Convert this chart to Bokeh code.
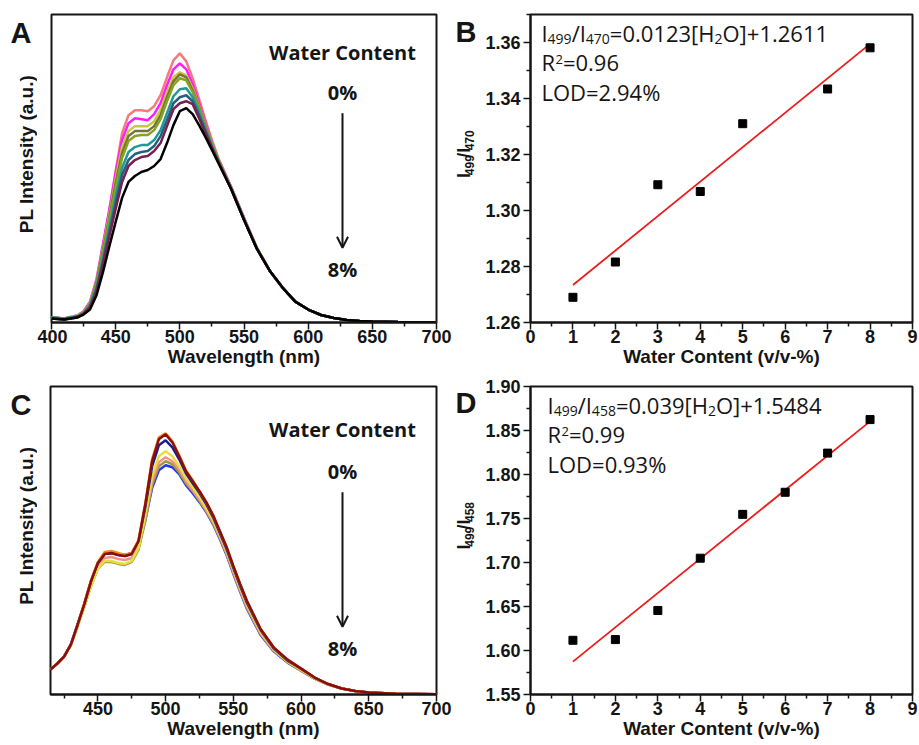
import math
from bokeh.plotting import figure
from bokeh.layouts import row, column
from bokeh.models import Range1d, Label, Arrow, OpenHead, FixedTicker, PrintfTickFormatter
from bokeh.embed import file_html
from bokeh.resources import INLINE

# ---------------- data ----------------
# Panel A: PL spectra, water content 0% (top) ... 8% (bottom)
wl_A = [400, 410, 420, 425, 430, 435, 440, 445, 450, 455, 460, 465, 470, 475, 480, 485, 490, 495,
        500, 505, 510, 515, 520, 525, 530, 540, 550, 560, 570, 580, 590, 600, 610, 620, 630, 640,
        650, 670, 700]
A_0 = [5, 4, 7, 11, 20, 40, 75, 112, 152, 190, 208, 213, 213, 212, 217, 228, 246, 263, 270, 262, 245,
       224, 203, 183, 165, 136, 105, 75, 52, 35, 21, 13, 7.5, 4.5, 2.5, 1.5, 1, 0.5, 0.3]
A_1 = [5, 4, 7, 11, 21, 43, 78, 113, 150, 183, 200, 205, 204, 203, 209, 220, 238, 254, 260, 254, 239,
       220, 200, 181, 164, 136, 105, 75, 52, 35, 21, 13, 7.5, 4.5, 2.5, 1.5, 1, 0.5, 0.3]
A_2 = [5, 4, 7, 10, 20, 41, 74, 108, 144, 176, 192, 197, 197, 197, 202, 213, 231, 246, 251, 248, 235,
       217, 198, 180, 164, 135, 104, 75, 52, 35, 21, 13, 7.5, 4.5, 2.5, 1.5, 1, 0.5, 0.3]
A_3 = [5, 4, 6, 10, 19, 40, 72, 105, 140, 170, 187, 192, 192, 192, 197, 208, 226, 242, 249, 246, 233,
       216, 197, 179, 163, 135, 104, 75, 52, 35, 21, 13, 7.5, 4.5, 2.5, 1.5, 1, 0.5, 0.3]
A_4 = [5, 4, 6, 10, 18, 38, 69, 102, 135, 165, 182, 187, 188, 188, 193, 204, 222, 238, 245, 243, 231,
       215, 196, 179, 163, 135, 104, 75, 52, 35, 21, 13, 7.5, 4.5, 2.5, 1.5, 1, 0.5, 0.3]
A_5 = [5, 4, 6, 9, 17, 35, 64, 95, 126, 155, 171, 176, 178, 178, 183, 193, 210, 227, 234, 235, 226,
       211, 194, 177, 162, 134, 103, 74, 52, 35, 21, 13, 7.5, 4.5, 2.5, 1.5, 1, 0.5, 0.3]
A_6 = [4, 3, 6, 9, 16, 33, 61, 90, 120, 148, 163, 169, 171, 172, 177, 187, 203, 220, 226, 228, 222,
       208, 192, 176, 162, 134, 103, 74, 52, 35, 21, 13, 7.5, 4.5, 2.5, 1.5, 1, 0.5, 0.3]
A_7 = [4, 3, 5, 9, 15, 31, 58, 86, 114, 141, 157, 163, 166, 167, 172, 180, 197, 214, 220, 222, 219,
       205, 190, 175, 161, 134, 103, 74, 52, 35, 21, 13, 7.5, 4.5, 2.5, 1.5, 1, 0.5, 0.3]
A_8 = [4, 3, 5, 8, 13, 27, 50, 76, 101, 125, 141, 147, 151, 153, 157, 164, 180, 198, 212, 215, 209,
       198, 186, 173, 160, 134, 103, 74, 52, 35, 21, 13, 7.5, 4.5, 2.5, 1.5, 1, 0.5, 0.3]
A_colors = ["#F27B7B", "#FF1CFF", "#C9C83C", "#74733A", "#86A422", "#1F9898", "#23607F", "#7A1F4F", "#000000"]

# Panel B: I499/I470 ratio vs water content
B_water = [1, 2, 3, 4, 5, 7, 8]
B_ratio = [1.269, 1.2816, 1.3092, 1.3068, 1.331, 1.3434, 1.3581]
B_slope, B_icept = 0.0123, 1.2611

# Panel C: PL spectra of second probe
wl_C = [415, 420, 425, 430, 435, 440, 445, 450, 455, 460, 465, 470, 475, 480, 485, 490, 495, 500, 505,
        510, 515, 520, 525, 530, 535, 540, 545, 550, 555, 560, 570, 580, 590, 600, 610, 620, 630, 640,
        650, 670, 700]
C_blue = [25, 31, 38, 50, 70, 91, 114, 132, 141, 142, 140, 139, 141, 150, 175, 207, 225, 230, 228, 221,
          210, 202, 193, 183, 171, 156, 140, 121, 103, 86, 60, 43, 32, 24, 16, 10, 6, 3.5, 2, 0.8, 0.3]
C_khaki = [25, 31, 38, 49, 68, 88, 109, 126, 133, 133, 131, 130, 133, 145, 174, 210, 229, 234, 231, 223,
           212, 204, 194, 184, 172, 157, 141, 122, 104, 87, 61, 43.5, 32.5, 24, 16, 10, 6, 3.5, 2, 0.8, 0.3]
C_salmon = [25, 31, 38, 49, 69, 90, 111, 129, 137, 138, 136, 135, 137, 149, 178, 214, 233, 238, 234, 226,
            214, 205, 196, 185, 173, 158, 142, 123, 105, 88, 61.5, 44, 33, 24.5, 16.5, 10, 6, 3.5, 2, 0.8, 0.3]
C_yellow = [25, 31, 38, 49, 68, 88, 109, 126, 134, 134, 132, 131, 134, 147, 180, 219, 239, 244, 239, 229,
            217, 208, 198, 187, 175, 160, 144, 125, 107, 90, 63, 45, 33, 25, 16.5, 10, 6, 3.5, 2, 0.8, 0.3]
C_navy = [25, 31, 38, 50, 70, 91, 114, 132, 141, 142, 141, 140, 142, 154, 188, 229, 250, 255, 248, 236,
          222, 212, 202, 191, 178, 162, 146, 127, 109, 92, 65, 46, 34, 26, 17, 10.5, 6, 3.5, 2, 0.8, 0.3]
C_orange = [25, 31, 38, 50, 70, 92, 115, 133, 143, 144, 142, 140, 142, 155, 192, 236, 258, 262, 254, 240,
            225, 215, 204, 193, 180, 164, 148, 129, 111, 94, 66, 47, 35, 26, 17, 10.5, 6, 3.5, 2, 0.8, 0.3]
C_wine = [25, 31, 38, 50, 70, 91, 114, 132, 141, 142, 140, 139, 141, 154, 191, 234, 256, 261, 253, 239,
          224, 214, 204, 193, 180, 164, 148, 129, 111, 94, 66, 47, 35, 26, 17, 10.5, 6, 3.5, 2, 0.8, 0.3]
C_colors = ["#2436F0", "#9C9A3C", "#F4928A", "#E6DF44", "#1C1C8E", "#FF8A1A", "#8A0E0E"]

# Panel D: I499/I458 ratio vs water content
D_water = [1, 2, 3, 4, 5, 6, 7, 8]
D_ratio = [1.6116, 1.6124, 1.6455, 1.7049, 1.7547, 1.7798, 1.8243, 1.8624]
D_slope, D_icept = 0.039, 1.5484

A_xticks = [400, 450, 500, 550, 600, 650, 700]
C_xticks = [450, 500, 550, 600, 650, 700]
BD_xticks = [0, 1, 2, 3, 4, 5, 6, 7, 8, 9]
B_yticks = [1.26, 1.28, 1.30, 1.32, 1.34, 1.36]
D_yticks = [1.55, 1.60, 1.65, 1.70, 1.75, 1.80, 1.85, 1.90]

# ---------------- styling ----------------
INK = "#151515"
AX_FONT = "Liberation Sans"
TX_FONT = "Open Sans"
KB = 0.39   # baseline correction (fraction of font size) for Label placement
KB_LETTER = 0.70

OS = {'0': .572, '1': .572, '2': .572, '3': .572, '4': .572, '5': .572, '6': .572, '7': .572, '8': .572,
      '9': .572, '.': .266, '/': .367, '=': .572, '+': .572, '[': .32, ']': .32, '%': .823, 'I': .279,
      'H': .738, 'O': .781, 'R': .635, 'L': .519, 'D': .723, ' ': .26}
LB = {'I': .278, '/': .278}


def tw(s, size, table, default=.556):
    return sum(table.get(c, default) for c in s) * size


def make_fig(w, h, xr, yr, bl, br, bt, bb):
    p = figure(width=w, height=h, x_range=Range1d(*xr), y_range=Range1d(*yr),
               output_backend="svg", toolbar_location=None,
               min_border_left=bl, min_border_right=br, min_border_top=bt, min_border_bottom=bb)
    p.xgrid.visible = False
    p.ygrid.visible = False
    p.outline_line_color = INK
    p.outline_line_width = 2
    p.outline_line_alpha = 1
    p.background_fill_color = "white"
    p.border_fill_color = "white"
    for ax in (p.xaxis[0], p.yaxis[0]):
        ax.axis_line_color = INK
        ax.axis_line_width = 2
        ax.major_tick_line_color = INK
        ax.major_tick_line_width = 1.5
        ax.minor_tick_line_color = INK
        ax.minor_tick_line_width = 1.5
        ax.major_tick_in = 0
        ax.major_tick_out = 7
        ax.minor_tick_in = 0
        ax.minor_tick_out = 4
        ax.major_label_text_font = AX_FONT
        ax.major_label_text_font_style = "bold"
        ax.major_label_text_font_size = "18px"
        ax.major_label_text_color = INK
        ax.axis_label_text_font = AX_FONT
        ax.axis_label_text_font_style = "bold"
        ax.axis_label_text_font_size = "19px"
        ax.axis_label_text_color = INK
        ax.major_label_standoff = 0
        ax.axis_label_standoff = 0
    return p


def make_strip(x0, y0, w, h):
    # blank figure used for text that lies left of a frame; returns figure and page->data converter
    s = figure(width=w, height=h, x_range=Range1d(0, w), y_range=Range1d(0, h),
               output_backend="svg", toolbar_location=None, x_axis_type=None, y_axis_type=None,
               title=None, min_border_left=0, min_border_right=0, min_border_top=0, min_border_bottom=0)
    s.xgrid.visible = False
    s.ygrid.visible = False
    s.outline_line_color = None
    s.background_fill_color = "white"
    s.border_fill_color = "white"
    return s, conv((x0, y0, x0 + w, y0 + h), (0, w), (0, h))


def conv(frame, xr, yr):
    l, t, r, b = frame

    def f(px, py):
        return (xr[0] + (px - l) / (r - l) * (xr[1] - xr[0]),
                yr[0] + (b - py) / (b - t) * (yr[1] - yr[0]))
    return f


def label(p, f, px, py, text, size, font=TX_FONT, style="normal", align="left", vertical=False, kb=KB):
    # (px, py): wanted baseline position in page pixels
    if vertical:
        x, y = f(px - kb * size, py)
        ang = math.pi / 2
    else:
        x, y = f(px, py - kb * size)
        ang = 0
    p.add_layout(Label(x=x, y=y, text=text, text_font=font, text_font_size=f"{size}px",
                       text_font_style=style, text_color=INK, text_align=align,
                       text_baseline="alphabetic", angle=ang))


def rich(p, f, px, py, pieces, size, sub, table, font=TX_FONT, style="normal"):
    adv = 0.0
    for text, kind in pieces:
        s = size if kind == "n" else sub
        shift = 0
        if kind == "sub":
            shift = -3
        elif kind == "sup":
            shift = 6
        x, y = f(px, py - KB * s - shift)
        p.add_layout(Label(x=x, y=y, x_offset=adv, text=text, text_font=font,
                           text_font_size=f"{s}px", text_font_style=style, text_color=INK,
                           text_align="left", text_baseline="alphabetic"))
        adv += tw(text, s, table)


def rich_vertical(p, f, px, py, pieces, size, sub, table, font=AX_FONT, style="bold"):
    # text reading bottom-to-top; (px, py) = baseline x and bottom end in page pixels
    adv = 0.0
    for text, kind in pieces:
        s = size if kind == "n" else sub
        shift = -3 if kind == "sub" else 0
        w = tw(text, s, table)
        x, y = f(px - KB * s - shift, py - adv - w / 2)
        p.add_layout(Label(x=x, y=y, angle=math.pi / 2, text=text, text_font=font,
                           text_font_size=f"{s}px", text_font_style=style, text_color=INK,
                           text_align="center", text_baseline="alphabetic"))
        adv += w


def water_arrow(p, f, px, top_text_py, zero_py, a0, a1, eight_py):
    label(p, f, px, top_text_py, "Water Content", 20, style="bold", align="center")
    label(p, f, px, zero_py, "0%", 20, style="bold", align="center")
    x0, y0 = f(px, a0)
    x1, y1 = f(px, a1)
    p.add_layout(Arrow(end=OpenHead(size=11, line_width=2, line_color=INK), x_start=x0, y_start=y0,
                       x_end=x1, y_end=y1, line_width=2, line_color=INK))
    label(p, f, px, eight_py, "8%", 20, style="bold", align="center")


def spectrum_fig(w, h, xr, frame, bl, br, bb):
    yr = (0, frame[3] - frame[1])
    p = make_fig(w, h, xr, yr, bl, br, 14, bb)
    p.yaxis.visible = False
    p.xaxis.axis_label = "Wavelength (nm)"
    return p, conv(frame, xr, yr)


# ---------------- Panel A ----------------
sA, gA = make_strip(0, 0, 37, 372)
label(sA, gA, 10, 43, "A", 29, font=AX_FONT, style="bold", kb=KB_LETTER)
label(sA, gA, 33, 168.5, "PL Intensity (a.u.)", 19, font=AX_FONT, style="bold", align="center",
      vertical=True)

pA, fA = spectrum_fig(418, 372, (400, 700), (51, 14, 436, 323), 14, 19, 49)
for ys, c in zip([A_0, A_1, A_2, A_3, A_4, A_5, A_6, A_7, A_8], A_colors):
    pA.line(wl_A, ys, line_color=c, line_width=2.5)
pA.xaxis.ticker = FixedTicker(ticks=A_xticks, minor_ticks=[t + 25 for t in A_xticks[:-1]])
water_arrow(pA, fA, 342, 60, 100, 113, 248, 278)

# ---------------- Panel B ----------------
sB, gB = make_strip(455, 0, 27, 372)
label(sB, gB, 455, 42, "B", 29, font=AX_FONT, style="bold", kb=KB_LETTER)
rich_vertical(sB, gB, 471, 197, [("I", "n"), ("499", "sub"), ("/I", "n"), ("470", "sub")], 18, 12, LB)

xrB, yrB = (0, 9), (1.26, 1.37)
pB = make_fig(437, 372, xrB, yrB, 47, 7, 14, 50)
fB = conv((529, 14, 912, 322), xrB, yrB)
fitx_B = [min(B_water), max(B_water)]
pB.line(fitx_B, [B_slope * v + B_icept for v in fitx_B], line_color="#EE1D1D", line_width=1.8)
pB.scatter(B_water, B_ratio, marker="square", size=8, color="#000000")
pB.xaxis.ticker = FixedTicker(ticks=BD_xticks, minor_ticks=[t + 0.5 for t in BD_xticks[:-1]])
pB.yaxis.ticker = FixedTicker(ticks=B_yticks, minor_ticks=[t + 0.01 for t in B_yticks])
pB.yaxis.formatter = PrintfTickFormatter(format="%.2f")
pB.xaxis.axis_label = "Water Content (v/v-%)"
pB.yaxis.major_label_standoff = 3
rich(pB, fB, 540, 40.7, [("I", "n"), ("499", "sub"), ("/I", "n"), ("470", "sub"), ("=0.0123[H", "n"),
                         ("2", "sub"), ("O]+1.2611", "n")], 22, 14, OS)
rich(pB, fB, 540, 70, [("R", "n"), ("2", "sup"), ("=0.96", "n")], 22, 13, OS)
rich(pB, fB, 540, 100, [("LOD=2.94%", "n")], 22, 14, OS)

# ---------------- Panel C ----------------
sC, gC = make_strip(0, 372, 37, 373)
label(sC, gC, 10, 415, "C", 29, font=AX_FONT, style="bold", kb=KB_LETTER)
label(sC, gC, 33, 540.5, "PL Intensity (a.u.)", 19, font=AX_FONT, style="bold", align="center",
      vertical=True)

pC, fC = spectrum_fig(418, 373, (415, 700), (50, 386, 436, 695), 13, 19, 50)
for ys, c in zip([C_blue, C_khaki, C_salmon, C_yellow, C_navy, C_orange, C_wine], C_colors):
    pC.line(wl_C, ys, line_color=c, line_width=2.5)
pC.xaxis.ticker = FixedTicker(ticks=C_xticks, minor_ticks=[425] + [t + 25 for t in C_xticks[:-1]])
water_arrow(pC, fC, 342, 437, 479, 492, 627, 657)

# ---------------- Panel D ----------------
sD, gD = make_strip(455, 372, 27, 373)
label(sD, gD, 455, 412, "D", 29, font=AX_FONT, style="bold", kb=KB_LETTER)
rich_vertical(sD, gD, 471, 569, [("I", "n"), ("499", "sub"), ("/I", "n"), ("458", "sub")], 18, 12, LB)

xrD, yrD = (0, 9), (1.55, 1.90)
pD = make_fig(437, 373, xrD, yrD, 48, 7, 14, 51)
fD = conv((530, 386, 912, 694), xrD, yrD)
fitx_D = [min(D_water), max(D_water)]
pD.line(fitx_D, [D_slope * v + D_icept for v in fitx_D], line_color="#EE1D1D", line_width=1.8)
pD.scatter(D_water, D_ratio, marker="square", size=8, color="#000000")
pD.xaxis.ticker = FixedTicker(ticks=BD_xticks, minor_ticks=[t + 0.5 for t in BD_xticks[:-1]])
pD.yaxis.ticker = FixedTicker(ticks=D_yticks, minor_ticks=[t + 0.025 for t in D_yticks[:-1]])
pD.yaxis.formatter = PrintfTickFormatter(format="%.2f")
pD.xaxis.axis_label = "Water Content (v/v-%)"
pD.yaxis.major_label_standoff = 3
rich(pD, fD, 547, 412.7, [("I", "n"), ("499", "sub"), ("/I", "n"), ("458", "sub"), ("=0.039[H", "n"),
                          ("2", "sub"), ("O]+1.5484", "n")], 22, 14, OS)
rich(pD, fD, 547, 442, [("R", "n"), ("2", "sup"), ("=0.99", "n")], 22, 13, OS)
rich(pD, fD, 547, 472, [("LOD=0.93%", "n")], 22, 14, OS)

layout = column(row(sA, pA, sB, pB), row(sC, pC, sD, pD))
open("out.html", "w").write(file_html(layout, INLINE))
